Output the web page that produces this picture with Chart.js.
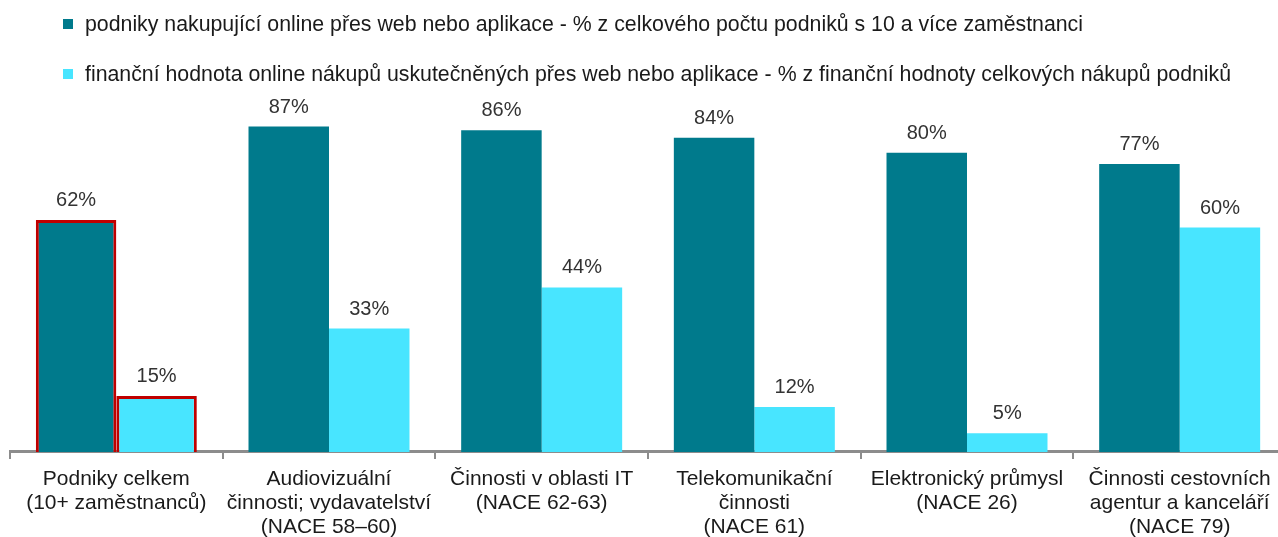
<!DOCTYPE html>
<html>
<head>
<meta charset="utf-8">
<script src="https://cdn.jsdelivr.net/npm/chart.js@4.4.1/dist/chart.umd.min.js"></script>
<style>
  html, body { margin: 0; padding: 0; background: #fff; overflow: hidden; }
  #wrap { position: relative; width: 1286px; height: 547px; }
  .leg { position: absolute; left: 63px; font-family: "Liberation Sans", Arial, sans-serif; font-size: 21.3px; line-height: 24px; color: #1a1a1a; white-space: nowrap; }
  .leg span { display: inline-block; width: 10px; height: 10px; margin-right: 12px; vertical-align: 2px; }
</style>
</head>
<body>
<div id="wrap">
  <div class="leg" style="top:12px"><span style="background:#007a8c"></span>podniky nakupující online přes web nebo aplikace - % z celkového počtu podniků s 10 a více zaměstnanci</div>
  <div class="leg" style="top:62px"><span style="background:#48e5ff"></span>finanční hodnota online nákupů uskutečněných přes web nebo aplikace - % z finanční hodnoty celkových nákupů podniků</div>
  <canvas id="graf" width="1286" height="547"></canvas>
</div>
<script>
// data
const kategorie = [
  ['Podniky celkem', '(10+ zaměstnanců)'],
  ['Audiovizuální', 'činnosti; vydavatelství', '(NACE 58–60)'],
  ['Činnosti v oblasti IT', '(NACE 62-63)'],
  ['Telekomunikační', 'činnosti', '(NACE 61)'],
  ['Elektronický průmysl', '(NACE 26)'],
  ['Činnosti cestovních', 'agentur a kanceláří', '(NACE 79)']
];
const podnikyOnline = [62, 87, 86, 84, 80, 77];
const hodnotaOnline = [15, 33, 44, 12, 5, 60];

const TMAVA = '#007a8c';
const SVETLA = '#48e5ff';
const CERVENA = '#c00000';

// popisky hodnot nad sloupci
const popiskyPlugin = {
  id: 'popisky',
  afterDatasetsDraw(chart) {
    const ctx = chart.ctx;
    ctx.save();
    ctx.font = '20px "Liberation Sans", Arial, sans-serif';
    ctx.fillStyle = '#333';
    ctx.textAlign = 'center';
    ctx.textBaseline = 'alphabetic';
    chart.data.datasets.forEach((ds, i) => {
      chart.getDatasetMeta(i).data.forEach((bar, j) => {
        ctx.fillText(ds.data[j] + '%', bar.x, bar.y - 14);
      });
    });
    ctx.restore();
  }
};

new Chart(document.getElementById('graf'), {
  type: 'bar',
  data: {
    labels: kategorie,
    datasets: [
      {
        label: 'podniky nakupující online',
        data: podnikyOnline,
        backgroundColor: TMAVA,
        borderColor: podnikyOnline.map((v, i) => i === 0 ? CERVENA : TMAVA),
        borderWidth: podnikyOnline.map((v, i) => i === 0 ? 3 : 0)
      },
      {
        label: 'finanční hodnota online nákupů',
        data: hodnotaOnline,
        backgroundColor: SVETLA,
        borderColor: hodnotaOnline.map((v, i) => i === 0 ? CERVENA : SVETLA),
        borderWidth: hodnotaOnline.map((v, i) => i === 0 ? 3 : 0)
      }
    ]
  },
  options: {
    responsive: false,
    animation: false,
    layout: { padding: { top: 78, left: 10, right: 0, bottom: 0 } },
    datasets: { bar: { categoryPercentage: 0.757, barPercentage: 1 } },
    plugins: { legend: { display: false }, tooltip: { enabled: false } },
    scales: {
      x: {
        grid: { offset: true, drawOnChartArea: false, drawTicks: true, tickLength: 7, color: '#8c8c8c', lineWidth: 2 },
        border: { color: '#8c8c8c', width: 3 },
        ticks: {
          color: '#1a1a1a',
          font: { family: '"Liberation Sans", Arial, sans-serif', size: 21, lineHeight: 1.143 },
          padding: 8,
          maxRotation: 0,
          autoSkip: false
        }
      },
      y: { display: false, min: 0, max: 100 }
    }
  },
  plugins: [popiskyPlugin]
});
</script>
</body>
</html>
